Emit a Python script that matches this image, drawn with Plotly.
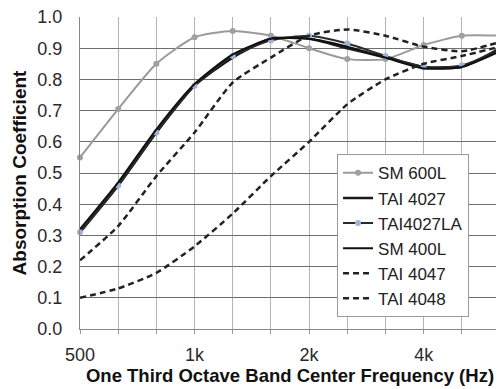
import plotly.graph_objects as go

freqs = ["500", "630", "800", "1000", "1250", "1600", "2000", "2500", "3150", "4000", "5000", "6300"]
tick_text = ["500", "", "", "1k", "", "", "2k", "", "", "4k", "", ""]

sm600l = [0.55, 0.705, 0.85, 0.935, 0.955, 0.94, 0.90, 0.865, 0.865, 0.91, 0.94, 0.94]
tai4027 = [0.31, 0.46, 0.63, 0.78, 0.87, 0.93, 0.93, 0.90, 0.87, 0.84, 0.84, 0.90]
tai4027la = [0.31, 0.46, 0.63, 0.78, 0.875, 0.925, 0.94, 0.915, 0.875, 0.84, 0.845, 0.895]
sm400l = [0.32, 0.47, 0.64, 0.785, 0.88, 0.93, 0.93, 0.905, 0.87, 0.835, 0.84, 0.89]
tai4047 = [0.22, 0.33, 0.49, 0.63, 0.79, 0.87, 0.94, 0.96, 0.94, 0.905, 0.89, 0.92]
tai4048 = [0.10, 0.13, 0.18, 0.265, 0.37, 0.49, 0.60, 0.72, 0.80, 0.85, 0.875, 0.905]

fig = go.Figure()

def add(name, y, color, width, dash="solid", marker=None):
    kw = dict(x=freqs, y=y, name=name, cliponaxis=False,
              line=dict(color=color, width=width, dash=dash, shape="spline", smoothing=0.6))
    if marker:
        kw["mode"] = "lines+markers"
        kw["marker"] = marker
    else:
        kw["mode"] = "lines"
    fig.add_trace(go.Scatter(**kw))

add("SM 600L", sm600l, "#9a9a9a", 2, marker=dict(color="#a0a0a0", size=6, symbol="circle"))
add("TAI 4027", tai4027, "#1a1a1a", 2.5)
add("TAI4027LA", tai4027la, "#2a2a2a", 2, marker=dict(color="#9fb3d9", size=6, symbol="circle"))
add("SM 400L", sm400l, "#111111", 2)
add("TAI 4047", tai4047, "#222222", 2.5, dash="6px,4px")
add("TAI 4048", tai4048, "#222222", 2.5, dash="6px,4px")

fig.update_layout(
    width=496, height=381,
    margin=dict(l=72, r=4, t=9, b=60),
    paper_bgcolor="white", plot_bgcolor="white",
    font=dict(family="Liberation Sans, Arial, sans-serif", size=17, color="#2a2a2a"),
    showlegend=True,
    legend=dict(x=0.612, y=0.56, xanchor="left", yanchor="top",
                bgcolor="white", bordercolor="#999", borderwidth=1,
                font=dict(size=17, color="#222"), tracegroupgap=0,
                itemwidth=30),
)
fig.update_xaxes(
    type="category", range=[0, 11], automargin=False,
    tickmode="array", tickvals=freqs, ticktext=tick_text,
    tickfont=dict(size=18), ticklabelstandoff=5, ticklabeloverflow="allow",
    showgrid=True, gridcolor="#b5b5b5", gridwidth=1,
    ticks="outside", ticklen=4, tickcolor="#999",
    showline=True, linecolor="#888",
    title=dict(text="<b>One Third Octave Band Center Frequency (Hz)</b>", font=dict(size=18.5, color="#111"), standoff=4),
    zeroline=False,
)
fig.update_yaxes(
    range=[0, 1.0], dtick=0.1, tickformat=".1f", automargin=False,
    tickfont=dict(size=18), ticklabelstandoff=13, ticklabeloverflow="allow",
    showgrid=True, gridcolor="#6e6e6e", gridwidth=1,
    ticks="", showline=True, linecolor="#888",
    title=dict(text="<b>Absorption Coefficient</b>", font=dict(size=19, color="#111"), standoff=5),
    zeroline=False,
)

fig.write_html("out.html")
